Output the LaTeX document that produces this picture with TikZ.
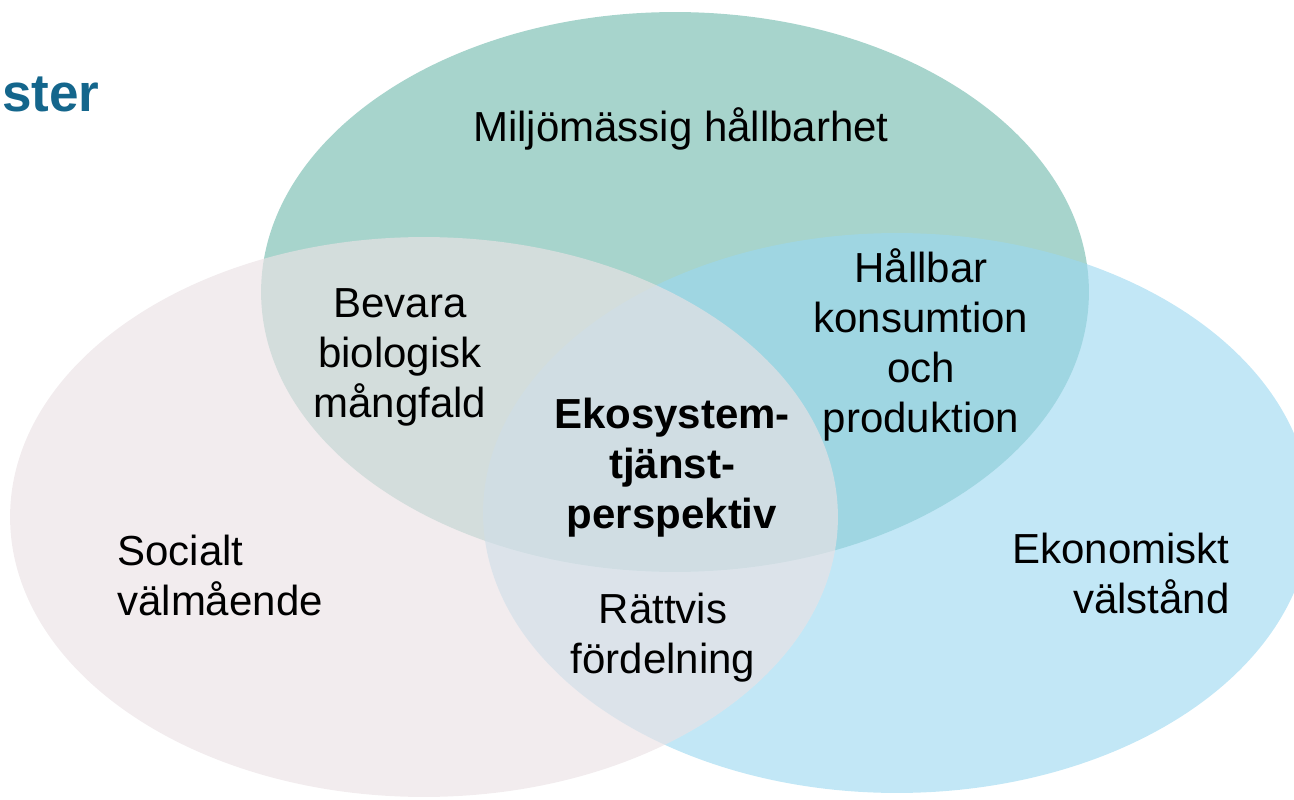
\documentclass[tikz,border=0pt]{standalone}
\usepackage{fontspec}
\setmainfont{Liberation Sans}
\usepackage{xcolor}
\definecolor{miljo}{RGB}{167,212,204}
\definecolor{ekonomi}{RGB}{155,216,240}
\definecolor{social}{RGB}{235,226,229}
\definecolor{rubrik}{RGB}{20,102,140}

\begin{document}
\begin{tikzpicture}[x=0.02cm, y=-0.02cm,
    venntext/.style={font=\fontsize{23.9}{28.45}\selectfont, align=center,
      inner sep=0pt, anchor=base},
    vennbold/.style={venntext, font=\fontsize{23.9}{28.45}\selectfont\bfseries},
    ring/.style={x radius=8.28cm, y radius=5.6cm}]
  \useasboundingbox (0,0) rectangle (1294,800);
  \clip (0,0) rectangle (1294,800);

  \fill[miljo] (675,292) ellipse [ring];
  \fill[ekonomi, fill opacity=.61] (897,513) ellipse [ring];
  \fill[social, fill opacity=.65] (424,517) ellipse [ring];

  \node[anchor=base east, inner sep=0pt, text=rubrik,
    font=\fontsize{30.2}{36}\selectfont\bfseries] (rubrik) at (100,112) {ster};

  % baselines of the last lines
  \node[venntext] (miljo) at (681,142) {Miljömässig hållbarhet};
  \node[venntext] (bevara) at (400,417) {Bevara\\biologisk\\mångfald};
  \node[venntext] (hallbar) at (921,432) {Hållbar\\konsumtion\\och\\produktion};
  \node[vennbold] (ekosystem) at (672,528) {Ekosystem-\\tjänst-\\perspektiv};
  \node[venntext] (rattvis) at (663,673) {Rättvis\\fördelning};
  \node[venntext, anchor=base west, align=left] (social) at (117,615) {Socialt\\välmående};
  \node[venntext, anchor=base east, align=right] (ekonomi) at (1230,613) {Ekonomiskt\\välstånd};
\end{tikzpicture}
\end{document}
